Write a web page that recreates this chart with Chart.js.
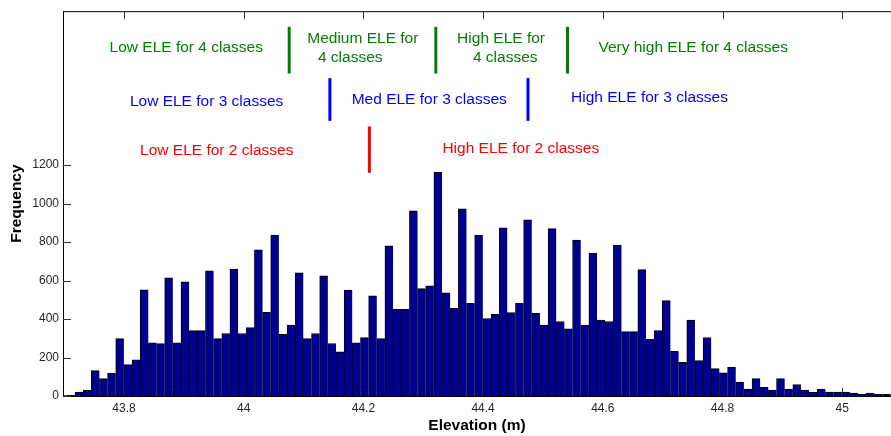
<!DOCTYPE html>
<html>
<head>
<meta charset="utf-8">
<script src="https://cdn.jsdelivr.net/npm/chart.js@4"></script>
<style>
  html, body { margin: 0; padding: 0; background: #fff; }
  #wrap { width: 891px; height: 436px; }
</style>
</head>
<body>
<div id="wrap"><canvas id="hist" width="891" height="436"></canvas></div>
<script>
// Histogram counts per elevation bin (m), left to right
const counts = [
  2, 4,
  20, 30, 132, 90, 118, 298, 163, 188, 552, 277,
  272, 614, 277, 594, 340, 340, 651, 298, 325, 660,
  325, 355, 760, 435, 836, 320, 368, 640, 298, 325,
  624, 273, 230, 550, 277, 303, 520, 298, 780, 450,
  450, 962, 558, 572, 1163, 536, 456, 973, 482, 836,
  403, 425, 874, 434, 482, 915, 430, 368, 870, 387,
  349, 810, 368, 743, 394, 387, 785, 335, 335, 657,
  295, 340, 496, 232, 175, 394, 184, 304, 142, 121,
  149, 72, 36, 90, 45, 31, 90, 36, 60, 31,
  19, 36, 20, 20, 20, 15, 9, 15, 9, 9
];
// Bin layout: left edge of the first bin and bin width (m)
const firstBinEdge = 43.6908;
const binWidth = 0.01363;

// Axis ticks
const xTickValues = [43.8, 44.0, 44.2, 44.4, 44.6, 44.8, 45.0];
const xTickLabels = ['43.8', '44', '44.2', '44.4', '44.6', '44.8', '45'];
const yTickValues = [0, 200, 400, 600, 800, 1000, 1200];

// Class break elevations (m)
const breaks4 = [44.076, 44.321, 44.541];
const breaks3 = [44.144, 44.475];
const breaks2 = [44.210];

// Class names
const names4 = ['Low ELE for 4 classes', ['Medium ELE for', '4 classes'], ['High ELE for', '4 classes'], 'Very high ELE for 4 classes'];
const names3 = ['Low ELE for 3 classes', 'Med ELE for 3 classes', 'High ELE for 3 classes'];
const names2 = ['Low ELE for 2 classes', 'High ELE for 2 classes'];

const binCenters = counts.map((_, i) => firstBinEdge + (i + 0.5) * binWidth);
const points = counts.map((c, i) => ({ x: binCenters[i], y: c }));

// Where the class break markers and their names sit (data units)
const classGroups = [
  {
    color: '#008000', breaks: breaks4, lineFrom: 1676, lineTo: 1919,
    names: names4,
    anchors: [
      [[43.904, 1809]],
      [[44.199, 1858], [44.178, 1759]],
      [[44.430, 1858], [44.437, 1759]],
      [[44.751, 1809]]
    ]
  },
  {
    color: '#0000ff', breaks: breaks3, lineFrom: 1430, lineTo: 1652,
    names: names3,
    anchors: [[[43.938, 1532]], [[44.310, 1541]], [[44.678, 1550]]]
  },
  {
    color: '#ff0000', breaks: breaks2, lineFrom: 1160, lineTo: 1401,
    names: names2,
    anchors: [[[43.955, 1273]], [[44.463, 1287]]]
  }
];

const FONT = '"Liberation Sans", Arial, sans-serif';

// Box top edge and inward-pointing tick marks, drawn beneath the bars
const axesFrame = {
  id: 'axesFrame',
  beforeDatasetsDraw(chart) {
    const { ctx, chartArea: a, scales: { x, y } } = chart;
    const len = 8;
    ctx.save();
    ctx.strokeStyle = '#000';
    ctx.lineWidth = 1;
    ctx.beginPath();
    ctx.moveTo(a.left, a.top + 0.5);
    ctx.lineTo(a.right, a.top + 0.5);
    ctx.stroke();
    ctx.strokeStyle = '#333';
    ctx.beginPath();
    xTickValues.forEach(v => {
      const px = Math.round(x.getPixelForValue(v)) + 0.5;
      ctx.moveTo(px, a.top); ctx.lineTo(px, a.top + len);
      ctx.moveTo(px, a.bottom); ctx.lineTo(px, a.bottom - len);
    });
    yTickValues.forEach(v => {
      const py = Math.round(y.getPixelForValue(v)) + 0.5;
      ctx.moveTo(a.left, py); ctx.lineTo(a.left + len, py);
    });
    ctx.stroke();
    ctx.restore();
  }
};

// Class break markers and class names
const classMarks = {
  id: 'classMarks',
  afterDatasetsDraw(chart) {
    const { ctx, scales: { x, y } } = chart;
    ctx.save();
    ctx.font = '15.5px ' + FONT;
    ctx.textAlign = 'center';
    ctx.textBaseline = 'middle';
    classGroups.forEach(g => {
      ctx.strokeStyle = g.color;
      ctx.fillStyle = g.color;
      ctx.lineWidth = 3;
      g.breaks.forEach(b => {
        const px = x.getPixelForValue(b);
        ctx.beginPath();
        ctx.moveTo(px, y.getPixelForValue(g.lineTo));
        ctx.lineTo(px, y.getPixelForValue(g.lineFrom));
        ctx.stroke();
      });
      g.names.forEach((name, i) => {
        const lines = Array.isArray(name) ? name : [name];
        lines.forEach((t, j) => {
          const [ax, ay] = g.anchors[i][j];
          ctx.fillText(t, x.getPixelForValue(ax), y.getPixelForValue(ay));
        });
      });
    });
    ctx.restore();
  }
};

new Chart(document.getElementById('hist'), {
  type: 'bar',
  data: {
    datasets: [{
      label: 'Frequency',
      data: points,
      backgroundColor: '#00008f',
      borderColor: '#000000',
      borderWidth: { top: 1, left: 1, right: 0, bottom: 0 },
      borderSkipped: 'start',
      barPercentage: 1,
      categoryPercentage: 1
    }]
  },
  options: {
    responsive: false,
    animation: false,
    layout: { padding: { top: 11, right: 0, bottom: 0, left: 0 } },
    plugins: { legend: { display: false }, tooltip: { enabled: false } },
    scales: {
      x: {
        type: 'linear',
        offset: false,
        min: 43.6981,
        max: 45.0815,
        grid: { display: false, drawTicks: false, offset: false },
        border: { display: true, color: '#000', width: 1 },
        afterBuildTicks: s => { s.ticks = xTickValues.map(v => ({ value: v })); },
        afterFit: s => { s.height = 40; },
        ticks: {
          padding: 5,
          color: '#262626',
          font: { family: FONT, size: 12 },
          maxRotation: 0,
          autoSkip: false,
          callback: (v) => {
            const i = xTickValues.findIndex(t => Math.abs(t - v) < 1e-6);
            return i >= 0 ? xTickLabels[i] : '';
          }
        },
        title: {
          display: true,
          text: 'Elevation (m)',
          color: '#000',
          font: { family: FONT, size: 15.5, weight: 'bold' },
          padding: { top: 0, bottom: 1 }
        }
      },
      y: {
        min: 0,
        max: 2000,
        grid: { display: false, drawTicks: false },
        border: { display: true, color: '#000', width: 1 },
        afterBuildTicks: s => { s.ticks = yTickValues.map(v => ({ value: v })); },
        afterFit: s => { s.width = 63; },
        ticks: {
          padding: 4,
          color: '#262626',
          font: { family: FONT, size: 12 },
          autoSkip: false,
          callback: v => String(v)
        },
        title: {
          display: true,
          text: 'Frequency',
          color: '#000',
          font: { family: FONT, size: 15.5, weight: 'bold' },
          padding: { top: 7, bottom: 0 }
        }
      }
    }
  },
  plugins: [axesFrame, classMarks]
});
</script>
</body>
</html>
